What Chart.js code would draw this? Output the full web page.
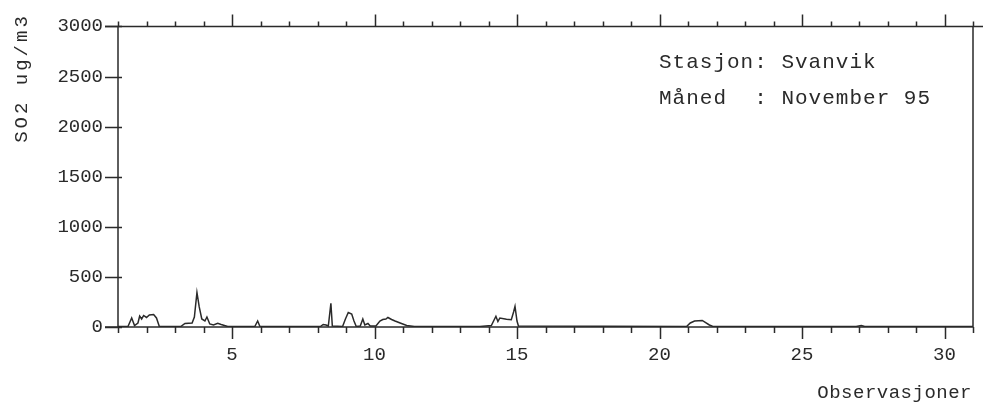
<!DOCTYPE html>
<html>
<head>
<meta charset="utf-8">
<script src="https://cdn.jsdelivr.net/npm/chart.js@4/dist/chart.umd.min.js"></script>
<style>
html,body{margin:0;padding:0;background:#fff;}
#wrap{width:984px;height:408px;position:relative;}
</style>
</head>
<body>
<div id="wrap"><canvas id="c" width="984" height="408"></canvas></div>
<script>
// Observation position (day of month) and SO2 concentration (ug/m3)
const obsDay = [1.0,1.35,1.48,1.58,1.7,1.76,1.83,1.9,2.0,2.1,2.25,2.35,2.45,3.2,3.35,3.6,3.68,3.77,3.85,3.94,4.05,4.12,4.22,4.35,4.5,4.62,4.85,5.8,5.9,5.98,8.1,8.2,8.3,8.38,8.47,8.52,8.88,8.98,9.08,9.2,9.28,9.36,9.5,9.59,9.66,9.77,9.85,10.05,10.19,10.29,10.4,10.47,10.6,10.72,10.9,11.13,11.4,13.7,13.9,14.1,14.26,14.33,14.4,14.63,14.8,14.88,14.93,15.0,15.05,20.95,21.08,21.23,21.5,21.75,21.86,22.8,26.9,27.08,27.2,31.0];
const so2 = [5,5,90,15,40,110,80,115,95,120,125,90,5,5,35,40,100,345,200,80,60,100,30,20,38,25,5,5,60,5,5,25,20,10,237,10,5,80,145,130,60,5,10,80,20,35,10,10,60,75,80,95,75,60,40,15,5,5,10,15,107,55,90,78,72,150,205,60,10,5,40,60,65,20,8,5,5,15,5,5];
const yTicks = [0,500,1000,1500,2000,2500,3000];
const xLabelDays = [5,10,15,20,25,30];
const infoLines = ["Stasjon: Svanvik", "Måned  : November 95"];
const yTitle = "SO2 ug/m3";
const xTitle = "Observasjoner";

const ink = '#2a2a2a';
const mono = '"Liberation Mono", "DejaVu Sans Mono", monospace';

const framePlugin = {
  id: 'frame',
  afterDraw(chart) {
    const ctx = chart.ctx, a = chart.chartArea;
    const xs = chart.scales.x, ys = chart.scales.y;
    ctx.save();
    ctx.strokeStyle = ink; ctx.lineWidth = 1.5;
    // frame
    ctx.beginPath();
    ctx.moveTo(a.left, a.top); ctx.lineTo(a.left, a.bottom);
    ctx.moveTo(a.left - 13, a.bottom); ctx.lineTo(a.right, a.bottom);
    ctx.moveTo(a.left - 13, a.top); ctx.lineTo(a.right + 10, a.top);
    ctx.moveTo(a.right, a.top); ctx.lineTo(a.right, a.bottom);
    ctx.stroke();
    // y ticks
    ctx.beginPath();
    for (const v of yTicks) {
      const p = Math.round(ys.getPixelForValue(v)) + 0.5;
      ctx.moveTo(a.left - 13, p); ctx.lineTo(a.left + 4, p);
    }
    // x ticks (every day, longer at multiples of 5)
    for (let d = Math.ceil(xs.min); d <= xs.max; d++) {
      const p = Math.round(xs.getPixelForValue(d)) + 0.5;
      const major = d % 5 === 0;
      ctx.moveTo(p, a.bottom); ctx.lineTo(p, a.bottom + (major ? 12 : 6));
      ctx.moveTo(p, a.top); ctx.lineTo(p, a.top - (major ? 12 : 5));
    }
    ctx.stroke();
    // info text
    ctx.fillStyle = ink;
    ctx.font = '21px ' + mono;
    ctx.textBaseline = 'middle'; ctx.textAlign = 'left';
    ctx.letterSpacing = '1px';
    ctx.fillText(infoLines[0], 659, 62);
    ctx.fillText(infoLines[1], 659, 98);
    // axis titles
    ctx.font = '19px ' + mono;
    ctx.letterSpacing = '0.5px';
    ctx.textAlign = 'right';
    ctx.fillText(xTitle, 972, 393);
    ctx.save();
    ctx.translate(22, 78); ctx.rotate(-Math.PI / 2);
    ctx.textAlign = 'center';
    ctx.font = '19px ' + mono;
    ctx.letterSpacing = '3px';
    ctx.fillText(yTitle, 0, 0);
    ctx.restore();
    ctx.restore();
  }
};

new Chart(document.getElementById('c'), {
  type: 'line',
  data: {
    datasets: [{
      data: obsDay.map((d, i) => ({x: d, y: so2[i]})),
      borderColor: ink,
      borderWidth: 1.5,
      pointRadius: 0,
      tension: 0,
      fill: false
    }]
  },
  options: {
    responsive: false,
    animation: false,
    events: [],
    layout: {padding: {top: 20, right: 11, left: 0, bottom: 0}},
    plugins: {legend: {display: false}, tooltip: {enabled: false}},
    scales: {
      x: {
        type: 'linear', min: 1, max: 31,
        grid: {display: false, drawTicks: false},
        border: {display: false},
        afterFit(s) { s.height = 81; s.paddingRight = 0; },
        ticks: {
          stepSize: 1, autoSkip: false, maxRotation: 0, padding: 17,
          color: ink, font: {family: mono, size: 19},
          callback: v => (xLabelDays.includes(v) ? String(v) : '')
        }
      },
      y: {
        type: 'linear', min: 0, max: 3000,
        grid: {display: false, drawTicks: false},
        border: {display: false},
        afterFit(s) { s.width = 118; },
        afterBuildTicks(s) { s.ticks = yTicks.map(v => ({value: v})); },
        ticks: {
          padding: 15, color: ink, font: {family: mono, size: 19},
          callback: v => String(v)
        }
      }
    }
  },
  plugins: [framePlugin]
});
</script>
</body>
</html>
